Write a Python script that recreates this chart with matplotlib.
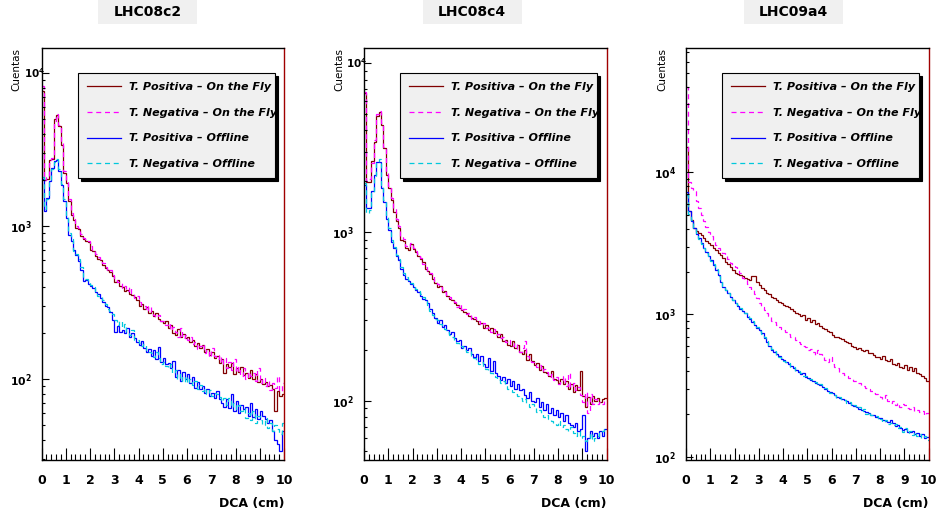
import numpy as np
import matplotlib
matplotlib.use("Agg")
import matplotlib.pyplot as plt
from matplotlib.patches import Rectangle
from matplotlib.transforms import blended_transform_factory
from matplotlib.ticker import LogLocator, MultipleLocator, FuncFormatter, NullFormatter

plt.rcParams['font.family'] = ['DejaVu Sans']
plt.rcParams['mathtext.fontset'] = 'dejavusans'

# ---------------- data ----------------
BIN_EDGES = np.linspace(0, 10, 101)          # DCA bins (cm), width 0.1
PANEL_TITLES = ["LHC08c2", "LHC08c4", "LHC09a4"]
SERIES_LABELS = ["T. Positiva \u2013 On the Fly", "T. Negativa \u2013 On the Fly",
                 "T. Positiva \u2013 Offline", "T. Negativa \u2013 Offline"]
X_LABEL = "DCA (cm)"
Y_LABEL = "Cuentas"

# LHC08c2
P1_POS_OTF = [7600, 2000, 2050, 2700, 2750, 5000, 5350, 4500, 3400, 2230,
              1920, 1460, 1190, 1100, 980, 960, 860, 830, 800, 790,
              700, 690, 640, 610, 600, 560, 530, 520, 500, 470,
              430, 445, 410, 400, 380, 385, 360, 355, 345, 330,
              300, 310, 290, 295, 270, 280, 260, 272, 248, 240,
              232, 240, 215, 225, 200, 195, 212, 190, 198, 185,
              188, 176, 182, 165, 172, 160, 168, 150, 158, 145,
              150, 138, 142, 128, 135, 110, 125, 120, 128, 108,
              118, 112, 120, 106, 110, 102, 115, 100, 108, 96,
              100, 93, 96, 90, 92, 86, 62, 84, 78, 80]
P1_NEG_OTF = [8200, 2000, 2100, 2600, 2800, 4900, 5400, 4600, 3500, 2300,
              1980, 1500, 1230, 1120, 1010, 980, 890, 840, 820, 800,
              740, 700, 660, 630, 590, 575, 545, 510, 520, 480,
              450, 430, 425, 395, 410, 380, 400, 360, 340, 350,
              320, 305, 300, 280, 300, 270, 262, 255, 265, 240,
              240, 225, 232, 210, 220, 205, 190, 215, 185, 195,
              180, 190, 170, 175, 158, 165, 170, 148, 155, 140,
              160, 142, 135, 145, 125, 138, 118, 130, 115, 135,
              112, 120, 105, 118, 100, 112, 105, 110, 98, 118,
              95, 102, 90, 98, 85, 95, 88, 105, 84, 95]
P1_POS_OFF = [2050, 1260, 1530, 1980, 2400, 2690, 2720, 2290, 1870, 1460,
              1130, 880, 800, 700, 650, 590, 520, 440, 445, 420,
              410, 395, 370, 360, 340, 320, 300, 295, 275, 245,
              205, 222, 205, 210, 200, 215, 190, 200, 185, 175,
              168, 178, 160, 150, 158, 142, 155, 135, 162, 130,
              138, 125, 128, 118, 132, 104, 115, 98, 112, 100,
              108, 95, 104, 88, 96, 86, 90, 82, 86, 78,
              82, 76, 84, 74, 70, 66, 74, 65, 80, 62,
              72, 60, 68, 64, 66, 58, 70, 57, 64, 55,
              62, 58, 55, 52, 54, 46, 40, 38, 34, 46]
P1_NEG_OFF = [2100, 1300, 1500, 1950, 2350, 2650, 2750, 2350, 1900, 1500,
              1160, 900, 820, 690, 660, 610, 540, 460, 450, 430,
              415, 400, 380, 350, 345, 330, 310, 290, 280, 268,
              245, 225, 240, 215, 230, 205, 195, 210, 180, 182,
              172, 165, 170, 155, 150, 148, 140, 150, 138, 125,
              130, 122, 118, 125, 110, 115, 100, 108, 96, 105,
              95, 100, 92, 98, 86, 92, 84, 88, 80, 85,
              78, 82, 80, 77, 72, 76, 68, 75, 66, 70,
              64, 68, 62, 65, 56, 60, 54, 62, 52, 58,
              54, 50, 56, 48, 52, 46, 50, 47, 44, 52]

# LHC08c4
P2_POS_OTF = [6700, 1990, 1990, 2620, 3440, 4900, 5130, 4300, 3130, 2170,
              1820, 1550, 1320, 1155, 1050, 900, 880, 800, 780, 850,
              790, 760, 720, 690, 660, 600, 590, 560, 530, 500,
              470, 480, 440, 450, 420, 400, 395, 380, 370, 355,
              345, 335, 330, 318, 310, 305, 298, 285, 290, 270,
              280, 262, 270, 252, 258, 240, 250, 225, 230, 215,
              212, 225, 205, 215, 195, 190, 200, 175, 188, 172,
              162, 168, 152, 160, 148, 145, 140, 150, 135, 132,
              128, 135, 125, 130, 118, 126, 112, 124, 115, 150,
              106, 92, 105, 95, 106, 100, 104, 98, 102, 104]
P2_NEG_OTF = [6800, 2000, 2050, 2580, 3500, 5000, 5200, 4400, 3200, 2250,
              1880, 1600, 1380, 1200, 1090, 950, 910, 830, 820, 860,
              800, 770, 740, 700, 650, 620, 580, 570, 545, 510,
              490, 470, 455, 440, 425, 410, 400, 385, 360, 375,
              340, 350, 325, 330, 305, 315, 300, 295, 280, 290,
              270, 275, 255, 265, 245, 250, 235, 240, 222, 230,
              218, 210, 220, 200, 195, 205, 225, 185, 178, 170,
              165, 158, 162, 150, 155, 148, 138, 144, 132, 138,
              126, 130, 140, 122, 145, 120, 128, 115, 120, 108,
              98, 112, 85, 110, 96, 102, 95, 98, 96, 100]
P2_POS_OFF = [1900, 1380, 1380, 1740, 2170, 2610, 2610, 1820, 1515, 1200,
              1025, 877, 800, 718, 680, 600, 555, 530, 510, 490,
              470, 455, 440, 420, 400, 395, 380, 350, 330, 310,
              290, 300, 275, 282, 262, 250, 255, 235, 225, 230,
              205, 210, 200, 205, 190, 182, 190, 172, 185, 165,
              158, 178, 150, 172, 145, 140, 132, 138, 128, 134,
              122, 130, 118, 126, 115, 118, 108, 104, 112, 100,
              98, 104, 92, 98, 88, 95, 84, 90, 82, 88,
              80, 84, 76, 82, 74, 72, 70, 74, 66, 68,
              82, 50, 60, 66, 62, 64, 60, 66, 62, 68]
P2_NEG_OFF = [1950, 1300, 1350, 1700, 2150, 2600, 2700, 1900, 1550, 1250,
              1050, 900, 820, 730, 690, 620, 570, 540, 520, 500,
              480, 460, 445, 430, 410, 390, 370, 340, 320, 305,
              300, 285, 270, 265, 255, 245, 240, 230, 220, 215,
              210, 200, 195, 198, 185, 178, 175, 165, 170, 158,
              155, 150, 145, 140, 138, 132, 128, 130, 122, 118,
              116, 112, 110, 106, 104, 100, 102, 96, 92, 95,
              90, 86, 88, 84, 80, 82, 78, 76, 74, 72,
              76, 70, 72, 68, 66, 70, 64, 62, 66, 60,
              62, 58, 60, 64, 58, 60, 62, 64, 66, 68]

# LHC09a4
P3_POS_OTF = [15100, 5300, 4600, 4050, 3850, 3730, 3600, 3440, 3300, 3200,
              3090, 2950, 2830, 2720, 2600, 2480, 2350, 2250, 2150, 2050,
              1945, 1920, 1900, 1870, 1820, 1780, 1760, 1860, 1860, 1700,
              1600, 1525, 1480, 1420, 1390, 1330, 1300, 1270, 1230, 1200,
              1165, 1150, 1120, 1090, 1060, 1020, 1000, 975, 990, 920,
              945, 890, 910, 860, 870, 830, 800, 790, 770, 750,
              720, 700, 690, 680, 670, 655, 643, 630, 600, 590,
              575, 580, 565, 550, 560, 533, 540, 520, 505, 500,
              490, 510, 480, 470, 485, 450, 440, 455, 430, 420,
              440, 410, 430, 400, 420, 385, 380, 370, 355, 340]
P3_NEG_OTF = [40000, 8600, 7800, 7330, 6300, 5600, 5000, 4510, 4100, 3800,
              3540, 3300, 3100, 2930, 2800, 2700, 2580, 2450, 2320, 2240,
              2165, 2050, 1950, 1800, 1740, 1650, 1560, 1480, 1400, 1300,
              1200, 1130, 1080, 1020, 970, 900, 880, 850, 820, 790,
              775, 750, 735, 700, 690, 660, 640, 620, 600, 590,
              565, 570, 545, 520, 560, 530, 510, 480, 465, 505,
              450, 430, 420, 395, 390, 375, 370, 355, 350, 342,
              338, 330, 318, 312, 305, 300, 292, 280, 275, 268,
              262, 255, 270, 248, 240, 245, 232, 238, 225, 235,
              230, 220, 215, 222, 210, 213, 205, 210, 198, 202]
P3_POS_OFF = [7300, 5300, 4510, 4050, 3700, 3440, 3200, 2930, 2750, 2560,
              2410, 2230, 2050, 1900, 1700, 1567, 1480, 1407, 1330, 1260,
              1197, 1150, 1100, 1060, 1020, 964, 930, 890, 840, 800,
              777, 740, 680, 640, 600, 563, 545, 525, 510, 490,
              478, 465, 450, 435, 420, 407, 395, 380, 385, 365,
              356, 345, 340, 330, 325, 319, 310, 300, 290, 285,
              279, 270, 265, 260, 255, 250, 245, 238, 232, 228,
              224, 218, 214, 210, 205, 202, 196, 198, 190, 186,
              186, 180, 178, 174, 180, 172, 165, 168, 158, 154,
              156, 150, 148, 152, 144, 146, 140, 144, 136, 138]
P3_NEG_OFF = [6900, 5100, 4600, 4000, 3750, 3400, 3150, 2950, 2700, 2580,
              2380, 2250, 2080, 1880, 1720, 1590, 1490, 1420, 1340, 1270,
              1210, 1160, 1110, 1070, 1030, 975, 940, 900, 860, 815,
              770, 730, 690, 650, 610, 575, 550, 520, 505, 495,
              470, 460, 455, 430, 425, 400, 398, 385, 372, 368,
              350, 352, 335, 335, 320, 322, 305, 302, 292, 280,
              275, 272, 258, 262, 250, 252, 240, 242, 228, 232,
              220, 222, 210, 215, 200, 205, 195, 192, 194, 182,
              184, 176, 182, 170, 172, 168, 170, 160, 162, 150,
              158, 146, 152, 142, 148, 140, 144, 136, 140, 132]

PANEL_DATA = [
    [P1_POS_OTF, P1_NEG_OTF, P1_POS_OFF, P1_NEG_OFF],
    [P2_POS_OTF, P2_NEG_OTF, P2_POS_OFF, P2_NEG_OFF],
    [P3_POS_OTF, P3_NEG_OTF, P3_POS_OFF, P3_NEG_OFF],
]
Y_LIMITS = [(29.7, 14620), (44.5, 12330), (94.8, 74800)]
# decade label that is drawn shifted right (as in the original) per panel
SHIFTED_DECADE = [4, 4, None]

# ---------------- style ----------------
COLORS = ["#800000", "#ff00ff", "#0000ff", "#00c8dc"]
STYLES = ["-", (0, (4, 3)), "-", (0, (4, 3))]

W, H = 938, 515
fig = plt.figure(figsize=(W / 100, H / 100), dpi=100)
fig.patch.set_facecolor("white")

AX_LEFT_PX = [41.5, 364, 686]
AX_W_PX = 242.5
AX_TOP_PX, AX_BOT_PX = 48, 460
TITLE_CX = [147.5, 472, 793]
YLAB_CX = [16.5, 339.5, 662.5]


def make_fmt(skip):
    def log_fmt(v, pos):
        e = int(round(np.log10(v)))
        if skip is not None and e == skip:
            return ""
        return r"$\mathbf{10^{%d}}$" % e
    return log_fmt


for i in range(3):
    ax = fig.add_axes([AX_LEFT_PX[i] / W, 1 - AX_BOT_PX / H,
                       AX_W_PX / W, (AX_BOT_PX - AX_TOP_PX) / H])
    handles = []
    for vals, c, ls, lab in zip(PANEL_DATA[i], COLORS, STYLES, SERIES_LABELS):
        h = ax.stairs(vals, BIN_EDGES, baseline=None, color=c,
                      linestyle=ls, linewidth=0.9, label=lab)
        handles.append(h)
    ax.set_yscale("log")
    ax.set_xlim(0, 10)
    ax.set_ylim(*Y_LIMITS[i])

    ax.xaxis.set_major_locator(MultipleLocator(1))
    ax.xaxis.set_minor_locator(MultipleLocator(0.2))
    ax.yaxis.set_major_locator(LogLocator(base=10, numticks=10))
    ax.yaxis.set_minor_locator(LogLocator(base=10, subs=np.arange(2, 10), numticks=10))
    ax.yaxis.set_major_formatter(FuncFormatter(make_fmt(SHIFTED_DECADE[i])))
    ax.yaxis.set_minor_formatter(NullFormatter())
    ax.tick_params(axis="x", which="major", direction="in", length=8.5, width=0.8,
                   pad=10, labelsize=9)
    ax.tick_params(axis="x", which="minor", direction="in", length=4.2, width=0.8)
    ax.tick_params(axis="y", which="major", direction="in", length=5, width=0.8,
                   pad=7, labelsize=7.8)
    ax.tick_params(axis="y", which="minor", direction="in", length=2.5, width=0.8)
    for lab in ax.get_xticklabels():
        lab.set_fontweight("bold")
    if SHIFTED_DECADE[i] is not None:
        tr = blended_transform_factory(ax.transAxes, ax.transData)
        ax.text(0.014, 10.0 ** SHIFTED_DECADE[i],
                r"$\mathbf{10^{%d}}$" % SHIFTED_DECADE[i], transform=tr,
                ha="right", va="center", fontsize=7.5, clip_on=False)
    for sp in ["left", "top", "bottom"]:
        ax.spines[sp].set_linewidth(1.0)
        ax.spines[sp].set_color("black")
    ax.spines["right"].set_color("#a00000")
    ax.spines["right"].set_linewidth(1.0)

    leg = ax.legend(handles=handles, labels=SERIES_LABELS, loc="upper left",
                    bbox_to_anchor=(0.15, 0.687, 0.812, 0.252), mode="expand",
                    borderaxespad=0, borderpad=0.81, labelspacing=1.41,
                    handlelength=3.06, handletextpad=0.7, fancybox=False,
                    shadow={"color": "black", "alpha": 1.0},
                    framealpha=1, facecolor="#f0f0f0", edgecolor="black",
                    prop={"weight": "bold", "style": "italic", "size": 8})
    leg.get_frame().set_linewidth(0.8)

    # title box
    fig.patches.append(Rectangle(((TITLE_CX[i] - 49.5) / W, 1 - 24 / H), 99 / W, 24 / H,
                                 transform=fig.transFigure, facecolor="#f0f0f0",
                                 edgecolor="none", zorder=0))
    fig.text(TITLE_CX[i] / W, 1 - 12.5 / H, PANEL_TITLES[i], ha="center", va="center",
             fontsize=10, fontweight="bold")
    fig.text(YLAB_CX[i] / W, 1 - 48 / H, Y_LABEL, rotation=90, ha="center", va="top",
             fontsize=7.5)
    fig.text((AX_LEFT_PX[i] + AX_W_PX) / W, 1 - 504 / H, X_LABEL, ha="right",
             va="center", fontsize=9, fontweight="bold")

fig.savefig("out.png", dpi=100)
